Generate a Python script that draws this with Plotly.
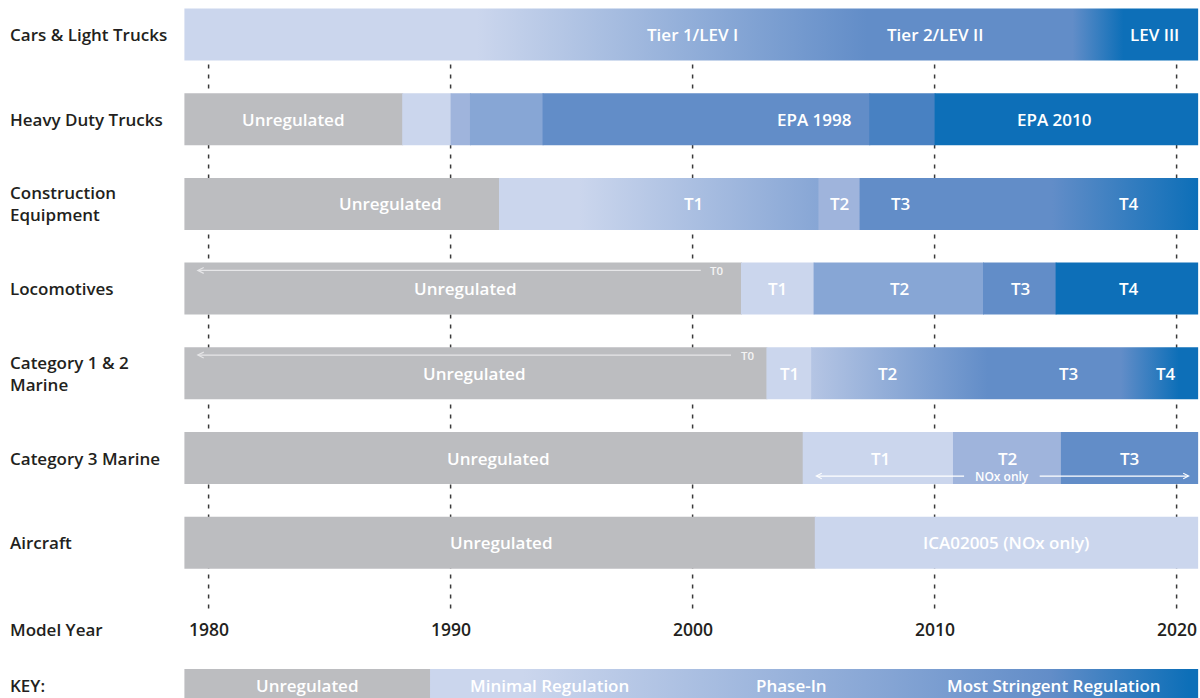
import plotly.graph_objects as go

# ---------------- data ----------------
row_labels = ["Cars & Light Trucks", "Heavy Duty Trucks", "Construction<br>Equipment",
              "Locomotives", "Category 1 & 2<br>Marine", "Category 3 Marine", "Aircraft"]

model_years = [1980, 1990, 2000, 2010, 2020]

# segment = (start year, end year, [(year, stringency level), ...])
# level 0 = unregulated ... level 6 = most stringent
cars_segments = [
    (1979.0, 2020.85, [(1979.0, 1), (1991.1, 1), (2007.2, 4), (2015.7, 4), (2017.8, 6), (2020.85, 6)]),
]
cars_labels = [("Tier 1/LEV I", 2000.0), ("Tier 2/LEV II", 2010.0), ("LEV III", 2019.1)]

hdt_segments = [
    (1979.0, 1988.0, [(1979.0, 0)]),
    (1988.0, 1990.0, [(1988.0, 1)]),
    (1990.0, 1990.8, [(1990.0, 2)]),
    (1990.8, 1993.8, [(1990.8, 3)]),
    (1993.8, 2007.3, [(1993.8, 4)]),
    (2007.3, 2010.0, [(2007.3, 5)]),
    (2010.0, 2020.85, [(2010.0, 6)]),
]
hdt_labels = [("Unregulated", 1983.5), ("EPA 1998", 2005.0), ("EPA 2010", 2014.95)]

constr_segments = [
    (1979.0, 1992.0, [(1979.0, 0)]),
    (1992.0, 2005.2, [(1992.0, 1), (1995.3, 1), (2005.2, 3)]),
    (2005.2, 2006.9, [(2005.2, 2)]),
    (2006.9, 2020.85, [(2006.9, 4), (2014.85, 4), (2020.85, 6)]),
]
constr_labels = [("Unregulated", 1987.5), ("T1", 2000.05), ("T2", 2006.05), ("T3", 2008.6), ("T4", 2018.05)]

loco_segments = [
    (1979.0, 2002.0, [(1979.0, 0)]),
    (2002.0, 2005.0, [(2002.0, 1)]),
    (2005.0, 2012.0, [(2005.0, 3)]),
    (2012.0, 2015.0, [(2012.0, 4)]),
    (2015.0, 2020.85, [(2015.0, 6)]),
]
loco_labels = [("Unregulated", 1990.6), ("T1", 2003.5), ("T2", 2008.55), ("T3", 2013.55), ("T4", 2018.05)]

marine12_segments = [
    (1979.0, 2003.05, [(1979.0, 0)]),
    (2003.05, 2004.9, [(2003.05, 1)]),
    (2004.9, 2020.85, [(2004.9, 1.5), (2012.2, 4), (2017.7, 4), (2020.1, 6), (2020.85, 6)]),
]
marine12_labels = [("Unregulated", 1990.95), ("T1", 2004.0), ("T2", 2008.05), ("T3", 2015.55), ("T4", 2019.55)]

marine3_segments = [
    (1979.0, 2004.55, [(1979.0, 0)]),
    (2004.55, 2010.76, [(2004.55, 1)]),
    (2010.76, 2015.22, [(2010.76, 2)]),
    (2015.22, 2020.85, [(2015.22, 4)]),
]
marine3_labels = [("Unregulated", 1991.95), ("T1", 2007.75), ("T2", 2013.0), ("T3", 2018.05)]

aircraft_segments = [
    (1979.0, 2005.05, [(1979.0, 0)]),
    (2005.05, 2020.85, [(2005.05, 1)]),
]
aircraft_labels = [("Unregulated", 1992.1), ("ICA02005 (NOx only)", 2012.95)]

key_segments = [
    (1979.0, 1989.15, [(1979.0, 0)]),
    (1989.15, 2020.85, [(1989.15, 1), (1993.0, 1), (2007.7, 3), (2014.8, 4), (2020.5, 6), (2020.85, 6)]),
]
key_labels = [("Unregulated", 1984.07), ("Minimal Regulation", 1994.07),
              ("Phase-In", 2004.1), ("Most Stringent Regulation", 2014.95)]

# T0 spans (row index, from year, to year) and NOx-only span for Category 3 Marine
t0_spans = [(3, 1979.5, 2000.4), (4, 1979.5, 2001.65)]
nox_span = (5, 2005.06, 2020.55, 2012.78)

rows_segments = [cars_segments, hdt_segments, constr_segments, loco_segments,
                 marine12_segments, marine3_segments, aircraft_segments]
rows_text = [cars_labels, hdt_labels, constr_labels, loco_labels,
             marine12_labels, marine3_labels, aircraft_labels]

# ---------------- style ----------------
LEVEL_COLORS = ["#BCBDC0", "#CBD6ED", "#9FB4DC", "#87A6D5", "#628DC8", "#4881C2", "#0D6FB8"]
FONT = "Open Sans"
LABEL_COLOR = "#231F20"
HALF = 0.307          # half bar height in row units
MODEL_ROW = 7.02
KEY_ROW = 7.68
BAR_FONT = dict(family=FONT, size=17, color="white", weight=600)
ROW_FONT = dict(family=FONT, size=17, color=LABEL_COLOR, weight=600)


def hex_rgb(h):
    h = h.lstrip("#")
    return tuple(int(h[i:i + 2], 16) for i in (0, 2, 4))


def level_color(lv):
    lo = int(lv)
    hi = min(lo + 1, len(LEVEL_COLORS) - 1)
    f = lv - lo
    a, b = hex_rgb(LEVEL_COLORS[lo]), hex_rgb(LEVEL_COLORS[hi])
    c = [round(a[i] + (b[i] - a[i]) * f) for i in range(3)]
    return "rgb(%d,%d,%d)" % tuple(c)


fig = go.Figure()


def add_segment(row, seg, top=None, bottom=None):
    s, e, stops = seg
    e_draw = e + 0.04  # tiny overlap to avoid hairline seams
    y0 = row - HALF if top is None else top
    y1 = row + HALF if bottom is None else bottom
    kw = dict(x=[s, e_draw, e_draw, s, s], y=[y0, y0, y1, y1, y0], mode="lines",
              fill="toself", line=dict(width=0), hoverinfo="skip", showlegend=False)
    if len(stops) == 1:
        kw["fillcolor"] = level_color(stops[0][1])
    else:
        cs = [[(yr - s) / (e - s), level_color(lv)] for yr, lv in stops]
        cs[0][0] = 0.0
        cs[-1][0] = 1.0
        kw["fillgradient"] = dict(type="horizontal", colorscale=cs, start=s, stop=e)
        kw["fillcolor"] = level_color(stops[0][1])
    fig.add_trace(go.Scatter(**kw))


for r, segs in enumerate(rows_segments):
    for seg in segs:
        add_segment(r, seg)

for seg in key_segments:
    add_segment(KEY_ROW, seg, top=7.49, bottom=8.2)

annotations = []
# labels inside bars
for r, labels in enumerate(rows_text):
    for txt, xv in labels:
        annotations.append(dict(x=xv, y=r, text=txt, showarrow=False, xanchor="center", yanchor="middle",
                                font=BAR_FONT))
for txt, xv in key_labels:
    annotations.append(dict(x=xv, y=KEY_ROW, text=txt, showarrow=False, xanchor="center", yanchor="middle",
                            font=BAR_FONT))

# row labels
for r, txt in enumerate(row_labels):
    annotations.append(dict(x=8 / 1200, xref="paper", y=r, yref="y", text=txt, showarrow=False,
                            xanchor="left", yanchor="middle", align="left", font=ROW_FONT))
annotations.append(dict(x=8 / 1200, xref="paper", y=MODEL_ROW, text="Model Year", showarrow=False,
                        xanchor="left", yanchor="middle", font=ROW_FONT))
annotations.append(dict(x=8 / 1200, xref="paper", y=KEY_ROW, text="KEY:", showarrow=False,
                        xanchor="left", yanchor="middle", font=ROW_FONT))

# year tick labels
for yr in model_years:
    annotations.append(dict(x=yr, y=MODEL_ROW, text=str(yr), showarrow=False, xanchor="center",
                            yanchor="middle", font=dict(family=FONT, size=17.5, color="#231F20", weight=600)))

# T0 arrows
for r, x_from, x_to in t0_spans:
    yy = r - 0.215
    annotations.append(dict(x=x_from, y=yy, ax=x_to, ay=yy, axref="x", ayref="y", text="",
                            showarrow=True, arrowhead=5, arrowsize=0.9, arrowwidth=1.3,
                            arrowcolor="#E6E6E8", standoff=0, startstandoff=0))
    annotations.append(dict(x=x_to + 0.25, y=yy, text="T0", showarrow=False, xanchor="left",
                            yanchor="middle", font=dict(family=FONT, size=11.5, color="#F4F4F4", weight=600)))

# NOx only double arrow
r, n0, n1, nx = nox_span
yy = r + 0.213
annotations.append(dict(x=n0, y=yy, ax=nx - 1.5, ay=yy, axref="x", ayref="y", text="", showarrow=True,
                        arrowhead=5, arrowsize=0.9, arrowwidth=1.2, arrowcolor="white", standoff=0))
annotations.append(dict(x=n1, y=yy, ax=nx + 1.5, ay=yy, axref="x", ayref="y", text="", showarrow=True,
                        arrowhead=5, arrowsize=0.9, arrowwidth=1.2, arrowcolor="white", standoff=0))
annotations.append(dict(x=nx, y=yy, text="NOx only", showarrow=False, xanchor="center", yanchor="middle",
                        font=dict(family=FONT, size=12, color="white", weight=600)))

# dashed year guides
shapes = []
for yr in model_years:
    shapes.append(dict(type="line", x0=yr, x1=yr, y0=0, y1=6.795, xref="x", yref="y", layer="below",
                       line=dict(color="#3A3A3A", width=1.5, dash="4px,6px")))

x_left = 2000 - 692.6 / 24.2
x_right = 2000 + (1200 - 692.6) / 24.2
y_bottom = (698 - 34.5) / 84.7
y_top = -34.5 / 84.7

fig.update_layout(
    width=1200, height=698,
    margin=dict(l=0, r=0, t=0, b=0),
    paper_bgcolor="white", plot_bgcolor="white",
    showlegend=False,
    xaxis=dict(range=[x_left, x_right], visible=False, fixedrange=True),
    yaxis=dict(range=[y_bottom, y_top], visible=False, fixedrange=True),
    annotations=annotations,
    shapes=shapes,
)

fig.write_html("out.html", config={"displayModeBar": False, "staticPlot": True},
               post_script="document.body.style.margin='0';document.body.style.overflow='hidden';")
